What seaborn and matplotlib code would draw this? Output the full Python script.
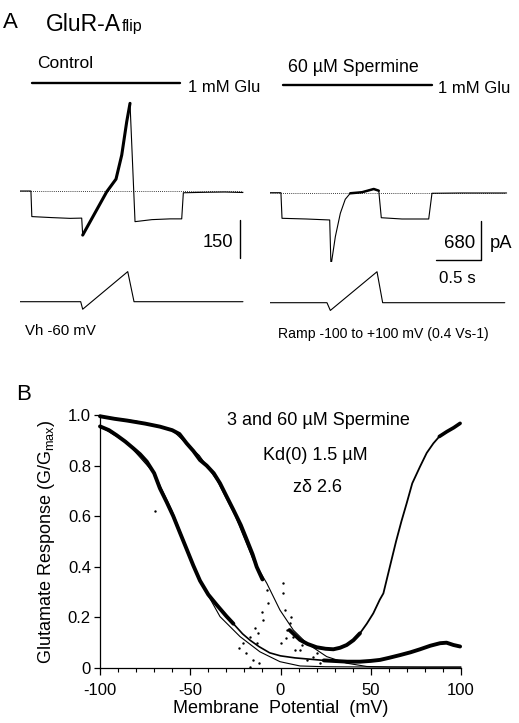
import matplotlib
matplotlib.use("Agg")
import matplotlib.pyplot as plt
import seaborn as sns

# ---------------- Panel A data (time in s, current in pA, voltage in mV) ----------------
CTRL_T = [0.00, 0.12, 0.13, 0.35, 0.55, 0.678, 0.689, 0.953, 1.055, 1.118, 1.173, 1.209,
          1.264, 1.45, 1.65, 1.777, 1.795, 2.05, 2.25, 2.45]
CTRL_I = [0, 0, -101, -105, -108, -107, -174, -3, 47, 142, 274, 346,
          -121, -113, -110, -110, -7, -5, -4, -6]
CTRL_VT = [0.00, 0.667, 0.689, 1.184, 1.253, 2.45]
CTRL_V = [-60, -60, -100, 100, -60, -60]

SPM_T = [0.00, 0.12, 0.132, 0.40, 0.656, 0.670, 0.718, 0.773, 0.827, 0.882, 1.011, 1.140,
         1.195, 1.223, 1.45, 1.744, 1.780, 2.10, 2.60]
SPM_I = [0, 0, -443, -455, -472, -1268, -761, -356, -114, -10, 8, 64,
         35, -433, -455, -455, -10, -5, -5]
SPM_VT = [0.00, 0.626, 0.663, 1.176, 1.238, 2.58]
SPM_V = [-60, -60, -100, 100, -60, -60]

GLU_ON = [0.132, 0.143]
GLU_OFF = [1.758, 1.780]
SCALE_CTRL_PA = 150
SCALE_SPM_PA = 680
SCALE_S = 0.5

# ---------------- Panel B data (membrane potential mV, G/Gmax) ----------------
UP_V = [-100, -92, -85, -75, -66.8, -60, -56, -52, -48.3, -44.6, -40.9, -37, -33.5, -30,
        -26.1, -22, -18.7, -15.5, -13.2, -10, -7, -2, 5, 10.8, 15, 20, 25, 29.3, 33, 36.7,
        40.4, 44, 47.8, 51.4, 55, 57, 61.6, 64, 67, 69.9, 73, 77.3, 81, 84.7, 88, 92.1, 96, 99.5]
UP_G = [0.995, 0.985, 0.978, 0.966, 0.954, 0.94, 0.925, 0.888, 0.858, 0.822, 0.80, 0.77, 0.73, 0.68,
        0.625, 0.565, 0.507, 0.45, 0.40, 0.35, 0.30, 0.22, 0.15, 0.111, 0.095, 0.082, 0.076, 0.074, 0.08, 0.091,
        0.11, 0.137, 0.175, 0.216, 0.27, 0.295, 0.43, 0.50, 0.58, 0.651, 0.73, 0.796, 0.85, 0.888, 0.915, 0.934, 0.95, 0.967]

LOW_V = [-100, -95, -90.8, -86, -81.5, -77.8, -74.1, -70, -66.8, -63, -59.4, -56, -52, -48.3,
         -44.6, -40, -35.4, -30, -26.1, -21, -16.9, -12, -6, 0, 8, 16, 24, 29.3, 37, 44, 50,
         55.1, 60, 66.2, 72, 77.3, 83, 88.4, 92, 95.8, 99.5]
LOW_G = [0.955, 0.94, 0.92, 0.895, 0.868, 0.845, 0.816, 0.77, 0.71, 0.655, 0.60, 0.54, 0.47, 0.405,
         0.345, 0.29, 0.25, 0.205, 0.175, 0.135, 0.11, 0.085, 0.06, 0.048, 0.04, 0.035, 0.03, 0.028, 0.025, 0.025, 0.028,
         0.032, 0.04, 0.051, 0.062, 0.074, 0.088, 0.098, 0.10, 0.091, 0.085]

FIT_UP_V = [-100, -80, -60, -45, -35, -25, -15.1, -7.6, -0.3, 7.1, 14.5, 25.6, 36.7, 47.8, 60, 80, 100]
FIT_UP_G = [0.995, 0.976, 0.94, 0.84, 0.74, 0.60, 0.427, 0.335, 0.229, 0.150, 0.098, 0.045, 0.019, 0.006, 0.004, 0.003, 0.003]
FIT_LOW_V = [-100, -85, -70, -60, -50, -44.6, -33.5, -22.4, -11.4, -0.3, 10.8, 25, 50, 75, 100]
FIT_LOW_G = [0.955, 0.89, 0.77, 0.62, 0.44, 0.345, 0.203, 0.124, 0.064, 0.025, 0.008, 0.005, 0.004, 0.004, 0.004]

SPARSE_V = [1.5, 1.5, 2.5, -9.5, -6.8, -7.6, -12.3, -13.2, -15.1, -16.9, -20.6, 7.1, 10.8, 14.5,
            5.3, 3.4, 18.2, -16.9, -19, -23, 12, 20, 22, -12, 3, 8, -69.5, -14, -10, 0.5, 6]
SPARSE_G = [0.335, 0.295, 0.229, 0.19, 0.256, 0.308, 0.137, 0.098, 0.032, 0.124, 0.098, 0.124, 0.071, 0.032,
            0.177, 0.15, 0.045, 0.005, 0.06, 0.08, 0.09, 0.06, 0.02, 0.02, 0.12, 0.07, 0.62, 0.16, 0.22, 0.1, 0.2]

X_TICKS = [-100, -50, 0, 50, 100]
Y_TICKS = [0, 0.2, 0.4, 0.6, 0.8, 1.0]
Y_TICK_LABELS = ["0", "0.2", "0.4", "0.6", "0.8", "1.0"]

# ---------------- style ----------------
sns.set_theme(style="ticks")
plt.rcParams["font.family"] = ["Liberation Sans", "DejaVu Sans"]
plt.rcParams["mathtext.fontset"] = "custom"
plt.rcParams["mathtext.rm"] = "Liberation Sans"
plt.rcParams["mathtext.it"] = "Liberation Sans:italic"
plt.rcParams["text.color"] = "black"

W, H = 519, 723
fig = plt.figure(figsize=(W / 100, H / 100), dpi=100)
fig.patch.set_facecolor("white")


def px_axes(l, t, r, b):
    return fig.add_axes([l / W, 1 - b / H, (r - l) / W, (b - t) / H])


def ftext(x, y, s, **kw):
    kw.setdefault("va", "baseline")
    kw.setdefault("color", "black")
    return fig.text(x / W, 1 - y / H, s, **kw)


PX_PER_S = 91.0


def trace_axes(left, right, top, bottom, base_px, units_per_px, base_val=0.0):
    ax = px_axes(left, top, right, bottom)
    ax.set_xlim(0, (right - left) / PX_PER_S)
    ax.set_ylim(base_val - (bottom - base_px) * units_per_px, base_val + (base_px - top) * units_per_px)
    ax.set_axis_off()
    return ax


K = "black"

# ---- Control current ----
axc = trace_axes(20, 250, 75, 262, 191.0, 150 / 38.0)
axc.hlines(0, 0, CTRL_T[-1], colors=K, linestyles=(0, (1, 1.5)), lw=0.6)
sns.lineplot(x=CTRL_T, y=CTRL_I, ax=axc, estimator=None, sort=False, color=K, lw=0.8)
sns.lineplot(x=CTRL_T[6:12], y=CTRL_I[6:12], ax=axc, estimator=None, sort=False, color=K, lw=2.2)
axc.plot([GLU_ON[0], GLU_OFF[0]], [0.957, 0.957], transform=axc.get_xaxis_transform(),
         color=K, lw=1.7, clip_on=False)
sb_t = (240 - 20) / PX_PER_S
sb_top = (191 - 220) * 150 / 38.0
axc.plot([sb_t, sb_t], [sb_top, sb_top - SCALE_CTRL_PA], color=K, lw=1.0)

# ---- Control voltage ----
axcv = trace_axes(20, 250, 262, 318, 301.7, 200 / 37.6, -60.0)
sns.lineplot(x=CTRL_VT, y=CTRL_V, ax=axcv, estimator=None, sort=False, color=K, lw=0.8)

# ---- Spermine current ----
axs = trace_axes(270, 512, 75, 262, 192.7, 680 / 39.3)
axs.hlines(0, 0, SPM_T[-1] - 0.02, colors=K, linestyles=(0, (1, 1.5)), lw=0.6)
sns.lineplot(x=SPM_T, y=SPM_I, ax=axs, estimator=None, sort=False, color=K, lw=0.8)
sns.lineplot(x=SPM_T[9:13], y=SPM_I[9:13], ax=axs, estimator=None, sort=False, color=K, lw=1.8)
axs.plot([GLU_ON[1], GLU_OFF[1]], [(262 - 85) / (262 - 75)] * 2, transform=axs.get_xaxis_transform(),
         color=K, lw=1.7, clip_on=False)
sb_t2 = (481 - 270) / PX_PER_S
sb_top2 = (192.7 - 220.7) * 680 / 39.3
axs.plot([sb_t2, sb_t2, sb_t2 - SCALE_S], [sb_top2, sb_top2 - SCALE_SPM_PA, sb_top2 - SCALE_SPM_PA],
         color=K, lw=1.0)

# ---- Spermine voltage ----
axsv = trace_axes(270, 512, 262, 318, 302.7, 200 / 38.7, -60.0)
sns.lineplot(x=SPM_VT, y=SPM_V, ax=axsv, estimator=None, sort=False, color=K, lw=0.8)

# ---- Panel A texts ----
ftext(3, 28.3, "A", fontsize=16)
t_glur = ftext(46, 31, "GluR-A", fontsize=16.5)
renderer = fig.canvas.get_renderer()
bb = t_glur.get_window_extent(renderer)
ftext(bb.x1 + 1, 31.5, "flip", fontsize=11.5)
ftext(36.7, 68.3, "Control", fontsize=12.5)
ftext(188.3, 91.7, "1 mM Glu", fontsize=12)
ftext(288.3, 71.7, "60 µM Spermine", fontsize=12.8)
ftext(438.3, 93.3, "1 mM Glu", fontsize=12)
ftext(233.5, 247.3, "150", fontsize=13.2, ha="right")
ftext(475.5, 247.5, "680", fontsize=13.4, ha="right")
ftext(489.7, 247.7, "pA", fontsize=13.2)
ftext(438.7, 283.3, "0.5 s", fontsize=12.2)
ftext(25, 335, "Vh -60 mV", fontsize=10.8)
ftext(278.3, 338.3, "Ramp -100 to +100 mV (0.4 Vs-1)", fontsize=10.1)

# ---------------- Panel B ----------------
axb = px_axes(100, 415, 461, 668)
axb.set_facecolor("white")
sns.lineplot(x=FIT_UP_V, y=FIT_UP_G, ax=axb, estimator=None, sort=False, color=K, lw=0.8)
sns.lineplot(x=FIT_LOW_V, y=FIT_LOW_G, ax=axb, estimator=None, sort=False, color=K, lw=0.8)
sns.lineplot(x=UP_V[:20], y=UP_G[:20], ax=axb, estimator=None, sort=False, color=K, lw=2.8)
sns.lineplot(x=UP_V[22:32], y=UP_G[22:32], ax=axb, estimator=None, sort=False, color=K, lw=2.8)
sns.lineplot(x=UP_V[31:], y=UP_G[31:], ax=axb, estimator=None, sort=False, color=K, lw=1.3)
sns.lineplot(x=UP_V[44:], y=UP_G[44:], ax=axb, estimator=None, sort=False, color=K, lw=2.6)
sns.lineplot(x=LOW_V[:19], y=LOW_G[:19], ax=axb, estimator=None, sort=False, color=K, lw=2.8)
sns.lineplot(x=LOW_V[18:27], y=LOW_G[18:27], ax=axb, estimator=None, sort=False, color=K, lw=1.2)
sns.lineplot(x=LOW_V[26:], y=LOW_G[26:], ax=axb, estimator=None, sort=False, color=K, lw=2.8)
sns.scatterplot(x=SPARSE_V, y=SPARSE_G, ax=axb, color=K, s=3, linewidth=0)
for ln in axb.lines:
    ln.set_clip_on(False)

axb.set_xlim(-100, 100)
axb.set_ylim(0, 1.0)
sns.despine(ax=axb)
for sp in ("left", "bottom"):
    axb.spines[sp].set_color(K)
    axb.spines[sp].set_linewidth(0.9)
axb.set_xticks(X_TICKS)
axb.set_xticklabels([str(v) for v in X_TICKS])
axb.set_xticks(list(range(-90, 100, 10)), minor=True)
axb.set_yticks(Y_TICKS)
axb.set_yticklabels(Y_TICK_LABELS)
axb.tick_params(axis="x", which="major", direction="out", length=5, width=0.9, color=K,
                labelsize=12, pad=6, labelcolor=K)
axb.tick_params(axis="x", which="minor", direction="out", length=3, width=0.8, color=K)
axb.tick_params(axis="y", which="major", direction="out", length=4, width=0.9, color=K,
                labelsize=12, pad=2.5, labelcolor=K)
axb.set_xlabel("Membrane  Potential  (mV)", fontsize=13, labelpad=1, color=K)
axb.set_ylabel("Glutamate Response (G/G$_{\\mathrm{max}}$)", fontsize=13, labelpad=8, color=K)

ftext(16, 400, "B", fontsize=16)
ftext(226.7, 425, "3 and 60 µM Spermine", fontsize=13)
ftext(263.3, 460, "Kd(0) 1.5 µM", fontsize=13)
ftext(293.3, 491.7, "zδ 2.6", fontsize=13)

fig.savefig("out.png", dpi=100, facecolor="white")
